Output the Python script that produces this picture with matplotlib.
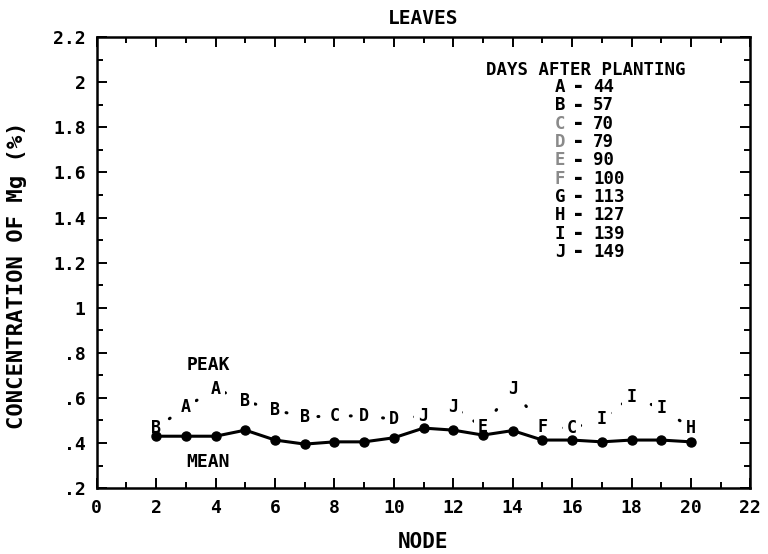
import matplotlib.pyplot as plt
from matplotlib.ticker import FixedLocator, MultipleLocator, FuncFormatter

# Mg concentration in leaves by node
nodes = list(range(2, 21))
mean_mg = [0.43, 0.43, 0.43, 0.457, 0.413, 0.395, 0.405, 0.405, 0.423, 0.466,
           0.457, 0.435, 0.455, 0.413, 0.413, 0.405, 0.413, 0.413, 0.405]
peak_mg = [0.466, 0.56, 0.64, 0.586, 0.546, 0.515, 0.52, 0.52, 0.506, 0.52,
           0.56, 0.47, 0.64, 0.47, 0.466, 0.506, 0.603, 0.555, 0.466]
peak_code = ["B", "A", "A", "B", "B", "B", "C", "D", "D", "J",
             "J", "E", "J", "F", "C", "I", "I", "I", "H"]

codes = ["A", "B", "C", "D", "E", "F", "G", "H", "I", "J"]
days = [44, 57, 70, 79, 90, 100, 113, 127, 139, 149]
faded = {"C", "D", "E", "F"}

y_ticks = [0.2, 0.4, 0.6, 0.8, 1.0, 1.2, 1.4, 1.6, 1.8, 2.0, 2.2]

FONT = {"family": "DejaVu Sans Mono", "weight": "bold"}
plt.rcParams.update({"font.family": "DejaVu Sans Mono", "font.weight": "bold"})


def ytick_fmt(v, _):
    s = f"{v:.1f}".rstrip("0").rstrip(".")
    return s[1:] if s.startswith("0.") else s


fig = plt.figure(figsize=(7.68, 5.54), dpi=100)
ax = fig.add_axes([0.126, 0.119, 0.851, 0.814])

ax.plot(nodes, mean_mg, color="black", lw=2.2, marker="o", ms=6.5,
        markerfacecolor="black", markeredgecolor="black", zorder=4)
ax.plot(nodes, peak_mg, color="black", lw=2.2, linestyle=(0, (0.3, 5)),
        dash_capstyle="round", zorder=2)
for x, y, c in zip(nodes, peak_mg, peak_code):
    ax.text(x, y, c, ha="center", va="center", fontsize=12, zorder=3,
            bbox=dict(boxstyle="square,pad=0.25", fc="white", ec="none"),
            **FONT)

ax.text(3.75, 0.745, "PEAK", ha="center", va="center", fontsize=13, **FONT)
ax.text(3.75, 0.315, "MEAN", ha="center", va="center", fontsize=13, **FONT)

# key for the peak letters
ax.text(16.45, 2.054, "DAYS AFTER PLANTING", ha="center", va="center",
        fontsize=12.5, **FONT)
for i, (c, d) in enumerate(zip(codes, days)):
    y = 1.978 - i * 0.0812
    col = "#8a8a8a" if c in faded else "black"
    ax.text(15.6, y, c, ha="center", va="center", fontsize=12.5, color=col, **FONT)
    ax.text(16.2, y + 0.004, "\u25ac", ha="center", va="center", fontsize=8, **FONT)
    ax.text(16.7, y, str(d), ha="left", va="center", fontsize=12.5, **FONT)

ax.set_xlim(0, 22)
ax.set_ylim(0.2, 2.2)
ax.xaxis.set_major_locator(MultipleLocator(2))
ax.xaxis.set_minor_locator(MultipleLocator(1))
ax.yaxis.set_major_locator(FixedLocator(y_ticks))
ax.yaxis.set_minor_locator(MultipleLocator(0.1))
ax.yaxis.set_major_formatter(FuncFormatter(ytick_fmt))
ax.tick_params(which="both", direction="in", top=True, right=True,
               labelsize=13, width=1.4, pad=8)
ax.tick_params(which="major", length=7)
ax.tick_params(which="minor", length=4)
for s in ax.spines.values():
    s.set_linewidth(1.8)

fig.text(423 / 768, 1 - 18 / 554, "LEAVES", ha="center", va="center",
         fontsize=14, **FONT)
fig.text(423 / 768, 1 - 542 / 554, "NODE", ha="center", va="center",
         fontsize=15, **FONT)
fig.text(17 / 768, 1 - 275 / 554, "CONCENTRATION OF Mg (%)", rotation=90,
         ha="center", va="center", fontsize=16, **FONT)

fig.savefig("out.png", dpi=100, facecolor="white")
